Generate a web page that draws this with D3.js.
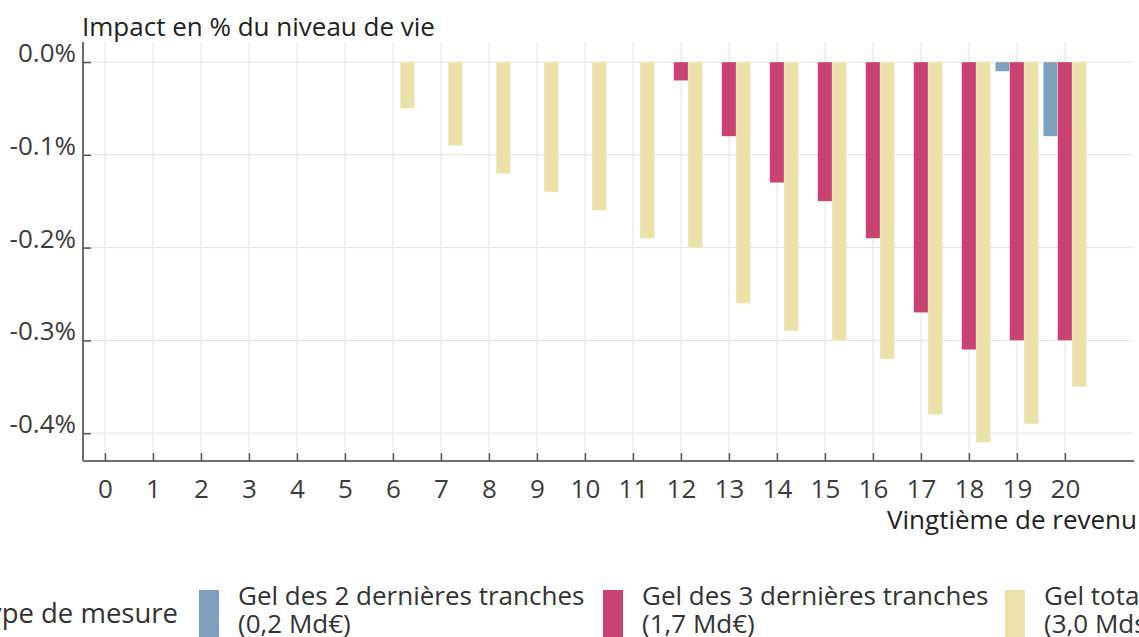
<!DOCTYPE html>
<html>
<head>
<meta charset="utf-8">
<script src="https://cdn.jsdelivr.net/npm/d3@7"></script>
<style>
    html, body { margin: 0; padding: 0; background: #fff; overflow: hidden; }
    svg.vis { display: block; font-family: "Open Sans", "Noto Sans", sans-serif; }
</style>
</head>
<body>
<svg class="vis" width="1139" height="637"></svg>
<script>

// vingtièmes de revenu
const vingtiemes = d3.range(0, 21);

// impact en % du niveau de vie, par vingtième (0 à 20)
const gel_2_tranches = [0, 0, 0, 0, 0, 0, 0, 0, 0, 0, 0, 0, 0, 0, 0, 0, 0, 0, 0, -0.01, -0.08];
const gel_3_tranches = [0, 0, 0, 0, 0, 0, 0, 0, 0, 0, 0, 0, -0.02, -0.08, -0.13, -0.15, -0.19, -0.27, -0.31, -0.30, -0.30];
const gel_total      = [0, 0, 0, 0, 0, 0, -0.05, -0.09, -0.12, -0.14, -0.16, -0.19, -0.20, -0.26, -0.29, -0.30, -0.32, -0.38, -0.41, -0.39, -0.35];

const y_ticks = [0, -0.1, -0.2, -0.3, -0.4];

const series_names = [
    ["Gel des 2 dernières tranches", "(0,2 Md€)"],
    ["Gel des 3 dernières tranches", "(1,7 Md€)"],
    ["Gel total", "(3,0 Mds€)"]
];

const vis = {

    refs: { svg: "svg.vis" },

    sels: { svg: null },

    dims: {
        left: 83,
        right: 1134,
        top: 42,
        bottom: 461,
        font: 26
    },

    colors: ["#7fa1c0", "#c84272", "#ebe2a9"],

    init: function() {
        vis.sels.svg = d3.select(vis.refs.svg);
        vis.draw.scales();
        vis.draw.grid();
        vis.draw.bars();
        vis.draw.axes();
        vis.draw.texts();
        vis.draw.legend();
    },

    draw: {

        x: null,
        y: null,

        scales: function() {
            vis.draw.x = d3.scaleLinear()
              .domain([-0.458, 21.44])
              .range([vis.dims.left, vis.dims.right]);

            vis.draw.y = d3.scaleLinear()
              .domain([0.0216, -0.4300])
              .range([vis.dims.top, vis.dims.bottom]);
        },

        grid: function() {
            let svg = vis.sels.svg, x = vis.draw.x, y = vis.draw.y;

            svg.append("g")
              .selectAll("line")
              .data(vingtiemes)
              .join("line")
              .attr("x1", d => x(d)).attr("x2", d => x(d))
              .attr("y1", vis.dims.top).attr("y2", vis.dims.bottom)
              .attr("stroke", "#e4e4e4").attr("stroke-width", 1);

            svg.append("g")
              .selectAll("line")
              .data(y_ticks)
              .join("line")
              .attr("x1", vis.dims.left).attr("x2", vis.dims.right)
              .attr("y1", d => y(d)).attr("y2", d => y(d))
              .attr("stroke", "#e4e4e4").attr("stroke-width", 1);
        },

        bars: function() {
            let svg = vis.sels.svg, x = vis.draw.x, y = vis.draw.y;
            let w = 0.3;

            [gel_2_tranches, gel_3_tranches, gel_total].forEach((serie, i) => {
                let offset = -0.45 + i * w;
                svg.append("g")
                  .selectAll("rect")
                  .data(serie)
                  .join("rect")
                  .attr("x", (d, k) => x(vingtiemes[k] + offset))
                  .attr("width", x(w) - x(0))
                  .attr("y", y(0))
                  .attr("height", d => y(d) - y(0))
                  .attr("fill", vis.colors[i])
                  .attr("stroke", "#fff")
                  .attr("stroke-opacity", 0.5)
                  .attr("stroke-width", 0.5);
            });
        },

        axes: function() {
            let svg = vis.sels.svg, x = vis.draw.x, y = vis.draw.y;

            // axe des x (ticks vers l'intérieur)
            let gx = svg.append("g")
              .attr("transform", `translate(0,${vis.dims.bottom})`)
              .call(d3.axisBottom(x)
                .tickValues(vingtiemes)
                .tickSizeInner(-8)
                .tickSizeOuter(0)
                .tickPadding(19)
                .tickFormat(d3.format("d")));

            gx.select(".domain")
              .attr("d", `M${vis.dims.left},0H${vis.dims.right}`)
              .attr("stroke", "#6e6e6e").attr("stroke-width", 2);
            gx.selectAll(".tick line").attr("stroke", "#555").attr("stroke-width", 1.5);
            gx.selectAll(".tick text")
              .attr("font-size", vis.dims.font).attr("fill", "#3c3c3c")
              .attr("font-family", "Open Sans").attr("dy", "0.71em");

            // axe des y
            let gy = svg.append("g")
              .attr("transform", `translate(${vis.dims.left},0)`)
              .call(d3.axisLeft(y)
                .tickValues(y_ticks)
                .tickSizeInner(-8)
                .tickSizeOuter(0)
                .tickPadding(7));

            gy.select(".domain")
              .attr("d", `M0,${vis.dims.top}V${vis.dims.bottom}`)
              .attr("stroke", "#6e6e6e").attr("stroke-width", 2);
            gy.selectAll(".tick line").attr("stroke", "#555").attr("stroke-width", 1.5);
            gy.selectAll(".tick text")
              .attr("font-size", vis.dims.font).attr("fill", "#3c3c3c")
              .attr("font-family", "Open Sans")
              .attr("dy", "-0.02em")
              .text(d => (d === 0 ? "0.0" : d3.format(".1f")(d).replace("−", "-")) + "%");
        },

        texts: function() {
            let svg = vis.sels.svg;

            svg.append("text")
              .attr("x", 82).attr("y", 36)
              .attr("font-size", vis.dims.font).attr("fill", "#222")
              .text("Impact en % du niveau de vie");

            svg.append("text")
              .attr("x", 1137).attr("y", 529)
              .attr("text-anchor", "end")
              .attr("font-size", vis.dims.font).attr("fill", "#222")
              .text("Vingtième de revenu");
        },

        legend: function() {
            let svg = vis.sels.svg;
            let xs = [199, 603, 1005];

            // titre de légende, coupé à gauche comme dans l'original
            svg.append("text")
              .attr("x", 178).attr("y", 623)
              .attr("text-anchor", "end")
              .attr("font-size", 27.5).attr("fill", "#333")
              .text("Type de mesure");

            let items = svg.append("g")
              .selectAll("g")
              .data(series_names)
              .join("g")
              .attr("transform", (d, i) => `translate(${xs[i]},0)`);

            items.append("rect")
              .attr("x", 0).attr("y", 590)
              .attr("width", 20).attr("height", 60)
              .attr("fill", (d, i) => vis.colors[i]);

            items.append("text")
              .attr("x", 39).attr("y", 605)
              .attr("font-size", vis.dims.font).attr("fill", "#333")
              .text(d => d[0]);

            items.append("text")
              .attr("x", 39).attr("y", 633)
              .attr("font-size", vis.dims.font).attr("fill", "#333")
              .text(d => d[1]);
        }
    }
};

vis.init();

</script>
</body>
</html>
